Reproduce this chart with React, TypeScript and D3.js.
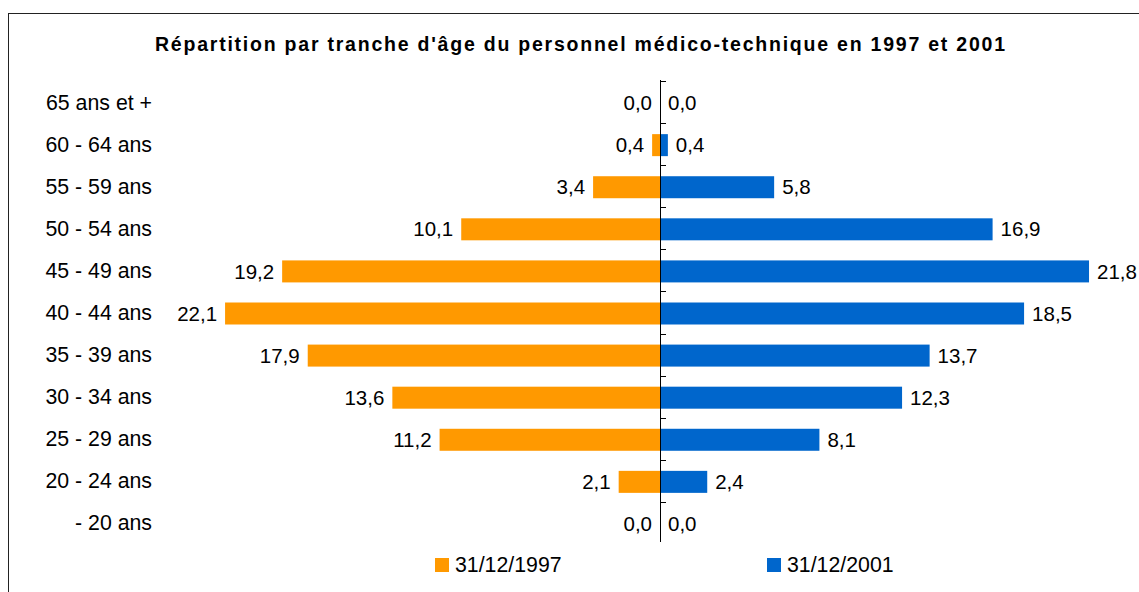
import React from "react";
import * as d3 from "d3";

const categories = ["65 ans et +", "60 - 64 ans", "55 - 59 ans", "50 - 54 ans", "45 - 49 ans", "40 - 44 ans", "35 - 39 ans", "30 - 34 ans", "25 - 29 ans", "20 - 24 ans", "- 20 ans"];
const values1997 = [0.0, 0.4, 3.4, 10.1, 19.2, 22.1, 17.9, 13.6, 11.2, 2.1, 0.0];
const values2001 = [0.0, 0.4, 5.8, 16.9, 21.8, 18.5, 13.7, 12.3, 8.1, 2.4, 0.0];
const seriesNames = ["31/12/1997", "31/12/2001"];
const colors = ["#FF9900", "#0066CC"];
const title = "Répartition par tranche d'âge du personnel médico-technique en 1997 et 2001";

const W = 1139, H = 592;
const FONT = "Arial, 'Liberation Sans', sans-serif";

export default function App() {
  const x = d3.scaleLinear().domain([-25, 25]).range([168, 1152]);
  const y = d3.scaleBand<string>().domain(categories).range([81, 544]).paddingInner(0).paddingOuter(0);
  const bw = y.bandwidth();
  const barH = 22;
  const cx = x(0);
  const fmt = (v: number) => v.toFixed(1).replace(".", ",");
  const ticks = categories.map((c) => y(c)!);

  return (
    <svg width={W} height={H} style={{ position: "absolute", left: 0, top: 0 }} fontFamily={FONT}>
      <rect x={0} y={0} width={W} height={H} fill="#fff" />
      <rect x={8.5} y={13.5} width={W + 20} height={H + 20} fill="none" stroke="#222" strokeWidth={1} />
      <text x={580} y={51} textAnchor="middle" fontWeight="bold" fontSize={19.5} fill="#000" textLength={850} lengthAdjust="spacing">{title}</text>
      {categories.map((c, i) => {
        const yc = y(c)! + bw / 2;
        const v1 = values1997[i];
        const v2 = values2001[i];
        return (
          <g key={c}>
            <text x={152} y={yc} dy="0.35em" textAnchor="end" fontSize={21.3} fill="#000">{c}</text>
            <rect x={x(-v1)} y={yc - barH / 2 + 1} width={cx - x(-v1)} height={barH} fill={colors[0]} />
            <rect x={cx} y={yc - barH / 2 + 1} width={x(v2) - cx} height={barH} fill={colors[1]} />
            <text x={x(-v1) - 8} y={yc + 1} dy="0.35em" textAnchor="end" fontSize={20.5} fill="#000">{fmt(v1)}</text>
            <text x={x(v2) + 8} y={yc + 1} dy="0.35em" textAnchor="start" fontSize={20.5} fill="#000">{fmt(v2)}</text>
          </g>
        );
      })}
      <line x1={cx + 0.5} x2={cx + 0.5} y1={80} y2={542} stroke="#000" strokeWidth={1} />
      {ticks.map((t, i) => (
        <line key={i} x1={cx + 0.5} x2={cx + 6} y1={Math.round(t) + 0.5} y2={Math.round(t) + 0.5} stroke="#000" strokeWidth={1} />
      ))}
      {seriesNames.map((s, i) => {
        const lx = i === 0 ? 435 : 767;
        return (
          <g key={s}>
            <rect x={lx} y={558} width={14} height={14} fill={colors[i]} />
            <text x={lx + 20} y={565} dy="0.35em" fontSize={21.3} fill="#000">{s}</text>
          </g>
        );
      })}
    </svg>
  );
}
